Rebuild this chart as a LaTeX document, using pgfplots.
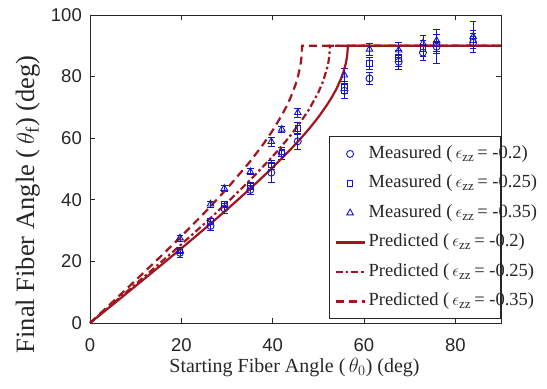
\documentclass[border=0pt]{standalone}
\usepackage{pgfplots}
\pgfplotsset{compat=1.18}
\usepackage{fontspec}
\setmainfont{Liberation Serif}
\setsansfont{Liberation Sans}
\definecolor{predred}{RGB}{162,20,30}
\definecolor{measblue}{RGB}{20,20,200}
\definecolor{axgray}{RGB}{38,38,38}
\newcommand{\ezz}{\,$\epsilon_{\mathrm{zz}}$\,}
\begin{document}
\begin{tikzpicture}
\begin{axis}[
  name=ax,
  scale only axis,
  width=411bp, height=308bp,
  xmin=0, xmax=90, ymin=0, ymax=100,
  xtick={0,20,40,60,80}, ytick={0,20,40,60,80,100},
  tick align=inside,
  major tick length=5bp,
  axis line style={axgray, line width=0.6bp},
  every tick/.style={axgray, line width=0.6bp},
  /pgf/number format/assume math mode=true,
  ticklabel style={font=\sffamily\fontsize{18.5bp}{20bp}\selectfont, text=axgray},
  yticklabel style={anchor=east, inner sep=0pt, xshift=-8bp},
  xticklabel style={anchor=north, inner sep=0pt, yshift=-15bp},
  xlabel={Starting Fiber Angle (\,$\theta_0$) (deg)},
  ylabel={Final Fiber Angle (\,$\theta_{\mathrm{f}}$) (deg)},
  xlabel style={font=\fontsize{20bp}{22bp}\selectfont, text=axgray, at={(axis description cs:0.4976,-0.162)}, anchor=base, inner sep=0pt},
  ylabel style={font=\fontsize{26.5bp}{29bp}\selectfont, text=axgray, at={(axis description cs:-0.136,0.385)}, anchor=base, inner sep=0pt, rotate=0},
  clip=false,
  legend cell align=left,
  legend image code/.code={\draw[mark repeat=2,mark phase=2,#1] plot coordinates {(0bp,0bp) (14.5bp,0bp) (29bp,0bp)};},
  legend style={at={(axis description cs:1,0.013)}, anchor=south east,
    draw=axgray, line width=0.6bp, fill=white,
    inner xsep=5bp, inner ysep=7.75bp, row sep=10.5bp, column sep=3bp,
    nodes={inner sep=0bp, text height=14bp, text depth=5bp,
      font=\fontsize{18.5bp}{20bp}\selectfont, text=axgray}},
]
% Measured, eps = -0.2 (circles)
\addplot[measblue, only marks, mark=o, mark size=3.5bp, mark options={line width=0.9bp},
  error bars/.cd, y dir=both, y explicit,
  error bar style={line width=0.8bp, measblue},
  error mark options={rotate=90, mark size=3.3bp, line width=0.8bp, measblue}]
table[x=x, y=y, y error=e] {
x y e
19.7 22.8 1.5
26.4 31.5 1.5
29.4 37.2 1.5
35.1 43.2 1.5
39.7 48.8 3.0
42.0 55.0 2.0
45.5 59.0 2.5
55.7 75.4 2.5
61.2 79.4 2.0
67.6 84.8 2.5
72.9 87.8 2.5
75.9 89.7 5.5
83.9 91.0 3.0
};
\addlegendentry{\makebox[127bp][l]{Measured (\ezz= -0.2)}}
% Measured, eps = -0.25 (squares)
\addplot[measblue, only marks, mark=square, mark size=2.8bp, mark options={line width=0.9bp},
  error bars/.cd, y dir=both, y explicit,
  error bar style={line width=0.8bp, measblue},
  error mark options={rotate=90, mark size=3.3bp, line width=0.8bp, measblue}]
table[x=x, y=y, y error=e] {
x y e
19.7 23.7 1.0
26.4 33.0 1.0
29.4 38.6 1.0
35.1 44.5 1.0
39.7 51.3 1.5
42.0 55.5 1.5
45.5 63.2 2.0
55.7 76.4 2.0
61.2 84.3 2.0
67.6 85.9 2.5
72.9 89.2 2.5
75.9 90.6 3.0
83.9 92.1 3.0
};
\addlegendentry{\makebox[127bp][l]{Measured (\ezz= -0.25)}}
% Measured, eps = -0.35 (triangles)
\addplot[measblue, only marks, mark=triangle, mark size=3.8bp, mark options={line width=0.9bp},
  error bars/.cd, y dir=both, y explicit,
  error bar style={line width=0.8bp, measblue},
  error mark options={rotate=90, mark size=3.3bp, line width=0.8bp, measblue}]
table[x=x, y=y, y error=e] {
x y e
19.7 27.6 1.0
26.4 38.6 1.0
29.4 43.7 1.0
35.1 49.1 1.0
39.7 58.9 1.5
42.0 62.9 1.0
45.5 68.3 1.5
55.7 80.5 2.0
61.2 88.9 2.0
67.6 88.6 2.5
72.9 90.8 2.5
75.9 91.7 3.5
83.9 93.0 5.0
};
\addlegendentry{\makebox[127bp][l]{Measured (\ezz= -0.35)}}
% Predicted, eps = -0.2
\addplot[predred, line width=2.2bp, no marks] coordinates {
(0,0)(5,6.00)(10,12.03)(15,18.09)(20,24.23)(25,30.47)(30,36.87)(35,43.49)(40,50.47)
(44,56.47)(46,59.68)(48,63.09)(50,66.81)(52,71.03)(53,73.41)(54,76.12)(55,79.41)
(55.5,81.48)(56,84.18)(56.2,85.72)(56.3,86.74)(56.35,87.39)(56.42,88.77)(56.44,90)(90,90)};
\addlegendentry{\makebox[127bp][l]{Predicted (\ezz= -0.2)}}
% Predicted, eps = -0.25
\addplot[predred, line width=2.2bp, no marks, dash pattern=on 7bp off 3bp on 2.5bp off 3bp] coordinates {
(0,0)(5,6.31)(10,12.64)(15,19.03)(20,25.53)(25,32.17)(30,39.05)(35,46.28)(40,54.09)
(42,57.47)(44,61.08)(46,65.01)(48,69.44)(50,74.84)(51,78.30)(52,83.16)(52.3,85.50)
(52.45,87.35)(52.53,90)(90,90)};
\addlegendentry{\makebox[127bp][l]{Predicted (\ezz= -0.25)}}
% Predicted, eps = -0.35
\addplot[predred, line width=2.2bp, no marks, dash pattern=on 8bp off 5bp] coordinates {
(0,0)(5,6.91)(10,13.87)(15,20.93)(20,28.16)(25,35.68)(30,43.63)(35,52.33)(38,58.17)
(40,62.51)(42,67.45)(43,70.25)(44,73.46)(45,77.37)(45.5,79.83)(46,83.07)(46.2,84.89)
(46.35,86.87)(46.44,90)(90,90)};
\addlegendentry{\makebox[127bp][l]{Predicted (\ezz= -0.35)}}
\end{axis}
\path (ax.south west) ++(-90bp,-66bp) rectangle ++(547bp,389bp);
\end{tikzpicture}
\end{document}
